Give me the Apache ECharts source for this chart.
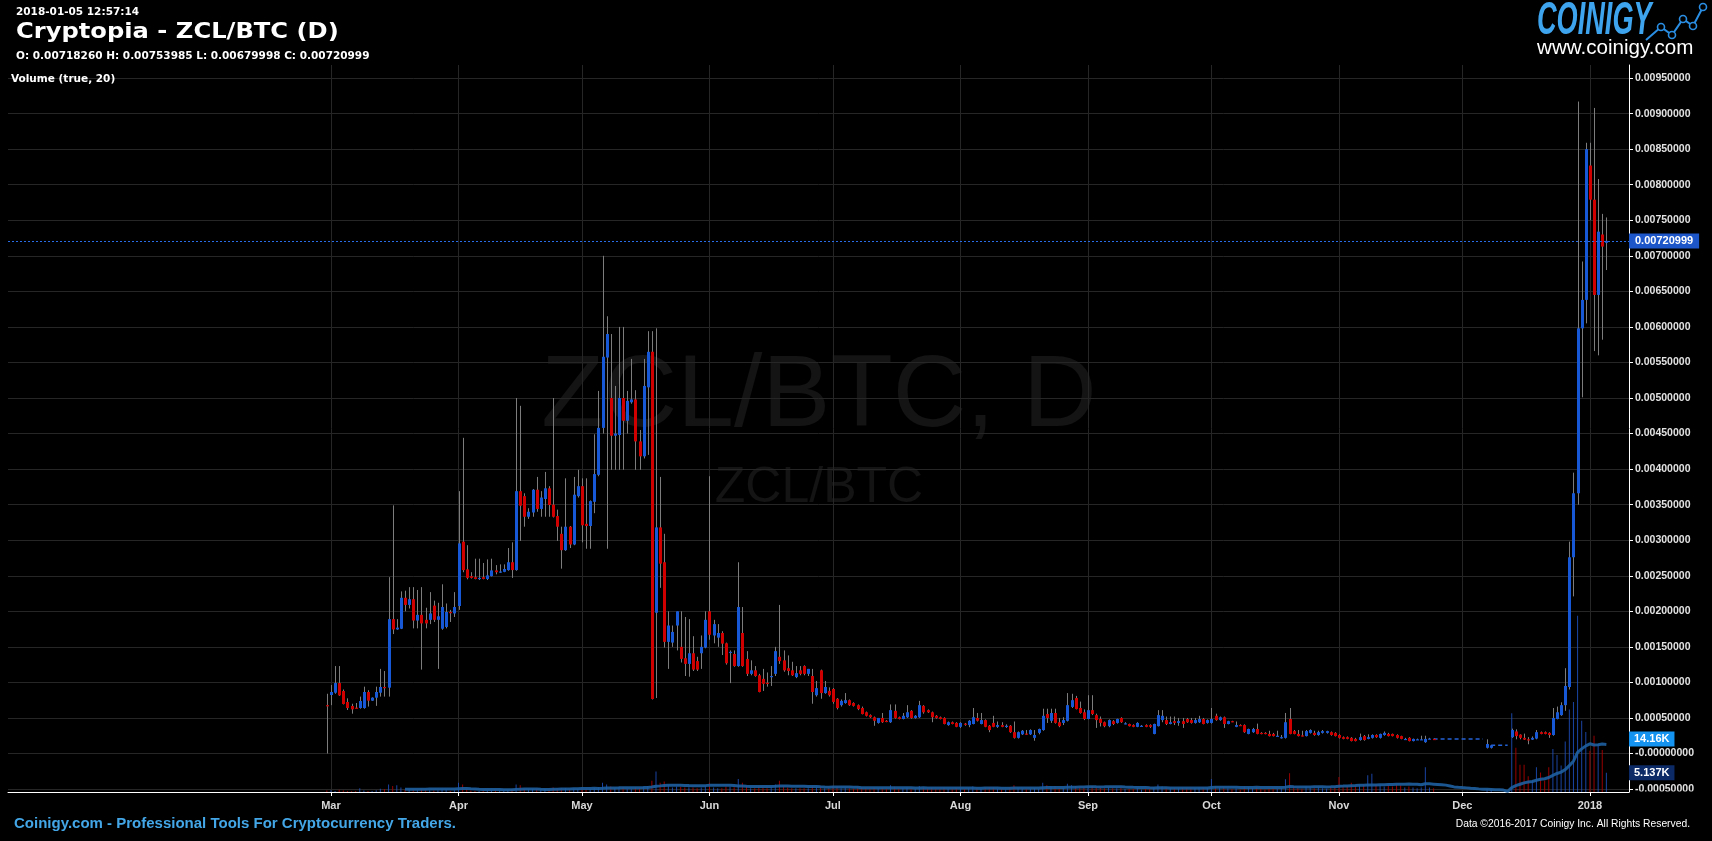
<!DOCTYPE html>
<html><head><meta charset="utf-8">
<script src="https://cdn.jsdelivr.net/npm/echarts@6/dist/echarts.min.js"></script>
<style>html,body{margin:0;padding:0;background:#000;}#c{width:1712px;height:841px;}</style>
</head><body><div id="c"></div>
<script>
// ---- axis range (days) ----
const axisFirstDay = '2016-12-13';
const axisLastDay = '2018-01-10';
const firstCandleDay = '2017-02-28';
const monthNames = ['Jan','Feb','Mar','Apr','May','Jun','Jul','Aug','Sep','Oct','Nov','Dec'];
// price tick labels (mBTC = 0.001 BTC)
const priceTicks = [-0.5,0,0.5,1,1.5,2,2.5,3,3.5,4,4.5,5,5.5,6,6.5,7,7.5,8,8.5,9,9.5];
const lastPrice = 7.20999;
const lastVolMA = 14.16;
const lastVol = 5.137;

// ---- daily candles [open, high, low, close] in mBTC; null = no trades ----
const feb = [[0.68,0.84,0.0,0.675]];
const mar = [[0.823,0.963,0.68,0.865],[0.855,1.23,0.84,0.991],[0.991,1.23,0.81,0.818],[0.879,0.90,0.69,0.696],[0.724,0.776,0.612,0.64],[0.668,0.70,0.56,0.621],[0.645,0.71,0.63,0.638],[0.64,0.80,0.63,0.738],[0.64,0.94,0.63,0.865],[0.865,0.89,0.66,0.743],[0.743,0.79,0.74,0.785],[0.785,0.94,0.67,0.865],[0.855,1.19,0.80,0.935],[0.935,1.16,0.80,0.93],[0.926,2.48,0.80,1.89],[1.89,3.49,1.68,1.745],[1.745,1.89,1.74,1.77],[1.755,2.28,1.75,2.19],[2.19,2.29,2.0,2.09],[2.09,2.34,2.04,2.17],[2.17,2.34,1.76,1.87],[1.87,2.30,1.76,1.95],[1.95,2.34,1.18,1.83],[1.88,2.05,1.76,1.83],[1.88,2.27,1.82,1.97],[2.08,2.15,1.85,1.88],[1.88,2.12,1.19,1.93],[1.755,2.38,1.74,2.06],[1.78,2.11,1.76,1.99],[1.99,2.02,1.85,1.985],[1.97,2.27,1.92,2.06]];
const apr = [[2.075,3.69,2.02,2.955],[2.98,4.44,2.55,2.58],[2.59,2.93,2.45,2.47],[2.495,2.55,2.46,2.47],[2.48,2.74,2.45,2.455],[2.455,2.74,2.44,2.47],[2.48,2.68,2.45,2.455],[2.455,2.73,2.44,2.505],[2.495,2.74,2.49,2.575],[2.575,2.65,2.52,2.55],[2.56,2.66,2.54,2.56],[2.555,2.66,2.55,2.595],[2.58,2.89,2.57,2.69],[2.69,2.97,2.47,2.58],[2.58,5.0,2.57,3.69],[3.69,4.89,2.99,3.485],[3.62,3.66,3.19,3.33],[3.33,3.45,3.30,3.40],[3.39,3.72,3.33,3.71],[3.71,3.89,3.40,3.44],[3.44,3.69,3.33,3.60],[3.58,3.96,3.33,3.73],[3.73,3.76,3.33,3.495],[3.50,5.0,3.32,3.33],[3.34,3.43,2.99,3.19],[3.09,3.19,2.60,2.86],[2.86,3.87,2.85,3.19],[3.19,3.20,2.89,2.94],[2.94,3.89,2.93,3.64],[3.62,3.99,3.60,3.76]];
const may = [[3.76,3.87,2.97,3.21],[3.23,3.87,2.88,3.20],[3.20,3.56,2.88,3.55],[3.54,4.49,3.38,3.93],[3.92,5.10,3.90,4.58],[4.58,7.0,4.50,5.58],[5.57,6.15,2.88,5.90],[5.0,5.90,3.99,4.47],[4.47,5.17,3.99,4.50],[4.48,6.0,3.99,5.0],[5.0,6.0,3.99,4.68],[4.68,5.10,4.50,4.96],[4.94,5.55,4.92,4.98],[4.98,5.11,3.99,4.39],[4.39,4.55,3.99,4.18],[4.18,5.55,4.15,5.17],[5.15,5.94,4.20,5.65],[5.65,5.94,0.76,0.766],[1.98,5.98,0.78,3.18],[3.18,3.89,2.33,2.67],[2.69,3.09,1.49,1.57],[1.57,2.0,1.19,1.80],[1.56,1.80,1.50,1.71],[1.80,2.0,1.45,2.0],[1.50,2.0,1.28,1.33],[1.34,1.92,1.09,1.26],[1.26,1.89,1.08,1.41],[1.41,1.65,1.16,1.18],[1.30,1.36,1.16,1.18],[1.41,1.66,1.19,1.50],[1.49,2.0,1.48,1.88]];
const jun = [[2.0,3.90,1.60,1.67],[1.66,1.88,1.55,1.82],[1.63,1.82,1.50,1.695],[1.695,1.72,1.385,1.545],[1.55,1.56,1.25,1.27],[1.42,1.45,0.99,1.43],[1.40,1.45,1.22,1.23],[1.23,2.69,1.22,2.06],[1.695,2.06,1.22,1.23],[1.33,1.44,1.09,1.12],[1.12,1.31,1.10,1.17],[1.17,1.23,1.08,1.09],[1.10,1.12,0.86,0.865],[1.05,1.19,0.88,0.98],[0.995,1.14,0.94,0.99],[1.08,1.23,0.95,1.09],[1.12,1.50,1.09,1.44],[1.36,2.09,1.26,1.30],[1.31,1.45,1.15,1.17],[1.20,1.38,1.10,1.16],[1.17,1.29,1.09,1.10],[1.075,1.23,1.06,1.13],[1.17,1.23,1.10,1.12],[1.23,1.24,1.10,1.12],[1.12,1.19,1.09,1.19],[1.09,1.19,0.70,0.865],[0.82,1.02,0.80,0.92],[1.17,1.18,0.77,0.85],[0.85,1.02,0.84,0.935],[0.88,0.93,0.80,0.82]];
const jul = [[0.907,0.92,0.70,0.725],[0.77,0.78,0.62,0.64],[0.68,0.76,0.66,0.74],[0.71,0.85,0.70,0.75],[0.75,0.76,0.67,0.68],[0.71,0.72,0.66,0.67],[0.68,0.69,0.61,0.625],[0.64,0.66,0.55,0.555],[0.58,0.59,0.52,0.53],[0.54,0.55,0.50,0.51],[0.51,0.52,0.39,0.46],[0.43,0.50,0.42,0.50],[0.50,0.57,0.43,0.44],[0.46,0.47,0.44,0.455],[0.44,0.69,0.43,0.61],[0.60,0.69,0.49,0.50],[0.51,0.52,0.48,0.485],[0.485,0.57,0.48,0.53],[0.51,0.68,0.50,0.58],[0.60,0.61,0.49,0.50],[0.50,0.54,0.49,0.53],[0.51,0.74,0.50,0.68],[0.67,0.68,0.56,0.58],[0.61,0.62,0.57,0.58],[0.58,0.59,0.44,0.51],[0.53,0.54,0.49,0.50],[0.51,0.52,0.48,0.485],[0.50,0.51,0.41,0.415],[0.40,0.45,0.39,0.44],[0.44,0.45,0.41,0.415],[0.43,0.44,0.37,0.375]];
const aug = [[0.375,0.44,0.36,0.43],[0.42,0.43,0.39,0.41],[0.40,0.47,0.37,0.46],[0.415,0.64,0.41,0.51],[0.50,0.57,0.45,0.46],[0.415,0.57,0.41,0.47],[0.47,0.48,0.37,0.375],[0.39,0.40,0.30,0.33],[0.43,0.53,0.37,0.375],[0.375,0.45,0.36,0.40],[0.40,0.44,0.37,0.375],[0.38,0.41,0.36,0.39],[0.39,0.40,0.29,0.30],[0.30,0.45,0.21,0.22],[0.22,0.31,0.21,0.30],[0.27,0.33,0.26,0.32],[0.28,0.33,0.26,0.27],[0.27,0.34,0.26,0.33],[0.22,0.33,0.18,0.26],[0.29,0.35,0.27,0.345],[0.33,0.63,0.32,0.53],[0.555,0.63,0.43,0.50],[0.46,0.63,0.43,0.57],[0.57,0.63,0.42,0.43],[0.44,0.50,0.37,0.385],[0.43,0.51,0.40,0.47],[0.46,0.85,0.45,0.68],[0.655,0.84,0.64,0.75],[0.78,0.81,0.62,0.625],[0.64,0.73,0.56,0.57],[0.58,0.62,0.47,0.485]];
const sep = [[0.485,0.82,0.48,0.61],[0.61,0.82,0.54,0.555],[0.54,0.56,0.36,0.47],[0.485,0.52,0.38,0.43],[0.44,0.45,0.37,0.385],[0.385,0.48,0.37,0.47],[0.455,0.47,0.40,0.415],[0.43,0.49,0.42,0.485],[0.50,0.51,0.43,0.44],[0.42,0.44,0.41,0.425],[0.415,0.42,0.38,0.385],[0.40,0.41,0.37,0.375],[0.375,0.44,0.37,0.43],[0.385,0.40,0.38,0.39],[0.40,0.41,0.37,0.375],[0.40,0.41,0.36,0.375],[0.275,0.42,0.27,0.415],[0.385,0.61,0.38,0.54],[0.47,0.61,0.44,0.53],[0.47,0.52,0.40,0.415],[0.415,0.52,0.41,0.44],[0.455,0.52,0.40,0.43],[0.43,0.50,0.39,0.455],[0.455,0.50,0.36,0.415],[0.485,0.50,0.43,0.44],[0.47,0.50,0.42,0.43],[0.43,0.50,0.42,0.47],[0.44,0.53,0.43,0.485],[0.485,0.50,0.41,0.415],[0.43,0.48,0.42,0.47]];
const oct = [[0.43,0.64,0.42,0.485],[0.53,0.56,0.46,0.47],[0.47,0.52,0.46,0.51],[0.51,0.52,0.36,0.415],[0.415,0.46,0.41,0.455],[0.455,0.46,0.44,0.45],[0.375,0.45,0.37,0.40],[0.40,0.41,0.39,0.395],[0.40,0.41,0.29,0.30],[0.275,0.35,0.27,0.345],[0.30,0.36,0.29,0.345],[0.345,0.42,0.27,0.275],[0.29,0.30,0.27,0.275],[0.29,0.30,0.27,0.275],[0.275,0.32,0.24,0.245],[0.275,0.29,0.24,0.245],[0.25,0.32,0.24,0.25],[0.22,0.26,0.21,0.23],[0.22,0.57,0.21,0.44],[0.485,0.64,0.27,0.275],[0.315,0.33,0.27,0.275],[0.275,0.33,0.24,0.245],[0.255,0.32,0.24,0.25],[0.245,0.33,0.24,0.315],[0.29,0.34,0.28,0.33],[0.29,0.32,0.25,0.26],[0.26,0.32,0.25,0.30],[0.29,0.33,0.28,0.315],[0.29,0.32,0.28,0.315],[0.30,0.31,0.25,0.26],[0.29,0.30,0.24,0.245]];
const nov = [[0.26,0.27,0.21,0.22],[0.23,0.24,0.20,0.205],[0.23,0.24,0.20,0.205],[0.22,0.23,0.17,0.175],[0.205,0.22,0.17,0.175],[0.19,0.28,0.18,0.23],[0.245,0.26,0.18,0.19],[0.205,0.27,0.20,0.23],[0.22,0.27,0.21,0.26],[0.26,0.27,0.22,0.23],[0.22,0.28,0.21,0.275],[0.26,0.31,0.25,0.29],[0.275,0.29,0.24,0.245],[0.275,0.28,0.24,0.245],[0.26,0.27,0.21,0.22],[0.245,0.25,0.20,0.205],[0.205,0.22,0.19,0.205],[0.22,0.23,0.17,0.175],[0.175,0.21,0.17,0.205],[0.20,0.21,0.19,0.20],[0.20,0.25,0.19,0.20],[0.16,0.25,0.15,0.205],[0.21,0.22,0.20,0.21],[0.205,0.21,0.20,0.20],null,null,null,null,null,null];
const dec = [null,null,null,null,null,null,[0.08,0.20,0.07,0.133],[0.08,0.12,0.07,0.115],null,null,null,null,[0.23,0.35,0.22,0.33],[0.31,0.34,0.20,0.245],[0.265,0.27,0.20,0.22],[0.22,0.28,0.19,0.195],[0.20,0.23,0.13,0.195],[0.195,0.24,0.19,0.22],[0.21,0.33,0.20,0.30],[0.30,0.31,0.27,0.275],[0.30,0.31,0.27,0.275],[0.29,0.30,0.22,0.26],[0.26,0.64,0.25,0.50],[0.485,0.66,0.48,0.58],[0.54,0.72,0.53,0.68],[0.68,1.2,0.60,0.95],[0.935,2.98,0.90,2.76],[2.76,3.95,2.21,3.66],[3.66,9.17,3.50,5.98],[5.98,6.92,5.01,6.38],[6.38,8.59,6.05,8.50]];
const jan = [[8.27,8.59,7.50,7.79],[7.79,9.08,5.66,6.45],[6.45,8.08,5.60,7.34],[7.30,7.59,5.82,7.13],[7.1826,7.53985,6.79998,7.20999]];

// ---- daily volume (thousands of ZCL); 0 = no trades ----
const volFeb = [0.4];
const volMar = [0.5,0.3,0.6,0.4,0.3,0.2,0.3,1.0,0.4,0.3,0.3,0.5,0.9,0.8,2.0,1.6,1.8,1.2,0.6,0.7,0.5,0.5,0.9,0.4,0.5,0.4,0.5,0.7,0.6,0.3,0.5];
const volApr = [2.5,2.0,0.8,0.4,0.3,0.3,0.3,0.4,0.4,0.3,0.3,0.3,0.5,0.6,2.0,1.8,0.9,0.7,0.8,0.8,0.6,0.9,0.7,1.2,1.0,1.0,1.0,0.8,0.9,0.8];
const volMay = [1.0,0.9,0.8,1.1,1.3,2.5,2.0,1.5,1.0,1.4,1.3,0.8,0.8,1.2,1.0,1.5,1.6,3.0,5.5,2.5,2.8,1.8,1.2,1.5,1.4,1.2,1.3,1.2,1.0,1.2,1.5];
const volJun = [2.5,1.2,1.0,1.0,1.5,1.5,1.3,3.5,2.5,1.5,1.0,1.0,1.5,1.2,1.0,1.2,2.0,3.0,1.5,1.2,1.0,1.0,1.0,1.0,1.0,1.5,1.2,1.5,1.0,1.0];
const volJul = [1.5,1.4,1.0,1.2,1.0,0.9,1.0,1.2,1.0,0.9,1.2,1.0,1.0,0.8,1.8,1.4,0.9,1.0,1.2,1.0,0.8,1.6,1.2,0.9,1.1,0.8,0.8,1.2,0.9,0.8,1.0];
const volAug = [1.0,0.8,1.0,1.5,1.0,0.9,1.2,1.3,1.2,0.8,0.8,0.7,1.2,1.8,1.2,0.9,0.8,0.9,1.0,0.9,2.5,1.8,1.5,1.6,1.0,1.0,2.2,1.8,1.6,1.2,1.2];
const volSep = [1.5,1.6,1.2,1.1,1.0,1.2,1.0,1.0,1.1,0.8,0.9,0.8,1.0,0.7,0.8,0.8,1.2,2.0,1.5,1.2,1.0,1.0,1.0,1.1,1.0,1.0,1.0,1.2,1.2,1.0];
const volOct = [3.5,1.5,1.2,1.5,1.0,0.8,1.0,0.7,1.5,1.3,1.0,1.2,0.8,0.7,1.0,0.9,0.8,1.0,3.4,5.0,1.5,1.0,0.9,1.5,1.2,1.0,1.2,1.0,0.9,1.5,1.5];
const volNov = [4.0,1.5,1.5,2.5,1.5,1.8,2.0,4.5,4.9,2.0,1.8,1.5,1.8,1.5,2.0,1.8,1.2,1.5,1.2,1.0,1.2,6.6,1.2,1.0,0,0,0,0,0,0];
const volDec = [0,0,0,0,0,0,0.8,0.6,0,0,0,0,21,11.8,7.3,7.3,4.2,3.1,6.6,5.2,3.1,6.6,11.5,9.9,7.1,13.5,22,24,47,19,16];
const volJan = [11,15,12.8,11.2,5.137];

// ---- gaps without trades: dashed line at the last close ----
const gapSegments = [
  {from:'2017-11-24', to:'2017-12-06', value:0.204},
  {from:'2017-12-08', to:'2017-12-12', value:0.115}
];

// ===== build =====
const BLUE = '#1658d6', RED = '#d00000';
function ymd(t){ return new Date(t).toISOString().slice(0,10); }
const cats = [];
for (let t = Date.parse(axisFirstDay+'T00:00:00Z'); t <= Date.parse(axisLastDay+'T00:00:00Z'); t += 86400000) cats.push(ymd(t));
const candles = [].concat(feb,mar,apr,may,jun,jul,aug,sep,oct,nov,dec,jan);
const vols = [].concat(volFeb,volMar,volApr,volMay,volJun,volJul,volAug,volSep,volOct,volNov,volDec,volJan);
const off = cats.indexOf(firstCandleDay);

const candleData = [];
const volData = cats.map(() => null);
candles.forEach((c, i) => {
  if (!c) return;
  candleData.push([off + i, c[0], c[1], c[2], c[3]]);
});
vols.forEach((v, i) => {
  const c = candles[i];
  if (!c || !v) return;
  volData[off + i] = {value: v, itemStyle: {color: c[3] >= c[0] ? 'rgba(30,80,190,0.85)' : 'rgba(170,0,0,0.9)'}};
});
// 20-day volume moving average (the "Volume (true, 20)" study)
const maData = cats.map(() => null);
for (let i = 19; i < vols.length; i++) {
  let s = 0;
  for (let k = i - 19; k <= i; k++) s += vols[k] || 0;
  maData[off + i] = +(s / 20).toFixed(3);
}
const gapData = cats.map(() => null);
gapSegments.forEach(g => {
  const a = cats.indexOf(g.from), b = cats.indexOf(g.to);
  for (let i = a; i <= b; i++) gapData[i] = g.value;
});

function isTickDay(idx, val) {
  return val.slice(8) === '01' && val >= firstCandleDay;
}

function renderCandle(params, api) {
  const x = api.value(0), o = api.value(1), h = api.value(2), l = api.value(3), c = api.value(4);
  const pO = api.coord([x, o]), pC = api.coord([x, c]), pH = api.coord([x, h]), pL = api.coord([x, l]);
  const cx = Math.round(pO[0]) + 0.5;
  const top = Math.min(pO[1], pC[1]), bot = Math.max(pO[1], pC[1]);
  const hgt = Math.max(1.2, bot - top);
  return {
    type: 'group',
    children: [
      {type: 'line', shape: {x1: cx, y1: pH[1], x2: cx, y2: pL[1]}, style: {stroke: '#7c7c7c', lineWidth: 1}},
      {type: 'rect', shape: {x: cx - 1.5, y: top, width: 3, height: hgt}, style: {fill: c >= o ? BLUE : RED}}
    ]
  };
}

const chart = echarts.init(document.getElementById('c'), null, {renderer: 'canvas'});
const hdrFont = 'bold 10.5px "DejaVu Sans"';
const hidden = {color: 'rgba(0,0,0,0)', width: 0};
chart.setOption({
  backgroundColor: '#000',
  animation: false,
  grid: {left: 8, right: 83, top: 65, bottom: 49},
  xAxis: {
    type: 'category', data: cats, boundaryGap: true,
    axisLine: {show: true, onZero: false, lineStyle: {color: '#ffffff', width: 1}},
    axisTick: {show: true, interval: isTickDay, alignWithLabel: true, length: 4, lineStyle: {color: '#ffffff'}},
    axisLabel: {interval: isTickDay, color: '#d8d8d8', fontFamily: '"Liberation Sans"', fontWeight: 'bold', fontSize: 11, margin: 8,
      formatter: v => { const m = +v.slice(5,7) - 1; return m === 0 ? v.slice(0,4) : monthNames[m]; }},
    splitLine: {show: true, interval: isTickDay, alignWithLabel: true, lineStyle: {color: '#262626', width: 1}}
  },
  yAxis: [{
    type: 'value', position: 'right', min: -0.5415, max: 9.684, scale: false,
    axisLine: {show: true, lineStyle: {color: '#ffffff'}},
    axisTick: {show: true, length: 4, customValues: priceTicks, lineStyle: {color: '#ffffff'}},
    axisLabel: {customValues: priceTicks, color: '#e2e2e2', fontFamily: '"Liberation Sans"', fontWeight: 'bold', fontSize: 10.5, margin: 6,
      formatter: v => (v === 0 ? '-' : '') + (v / 1000).toFixed(8)},
    splitLine: {show: true, lineStyle: {color: '#262626', width: 1}}
  }, {
    type: 'value', min: 0, max: 194, show: false, splitLine: {show: false}
  }],
  graphic: [
    {type: 'text', x: 819, y: 398, z: 0, silent: true, style: {text: 'ZCL/BTC, D', font: '102px "Liberation Sans"', fill: '#141414', align: 'center', verticalAlign: 'middle'}},
    {type: 'text', x: 819, y: 488, z: 0, silent: true, style: {text: 'ZCL/BTC', font: '50px "Liberation Sans"', fill: '#141414', align: 'center', verticalAlign: 'middle'}},
    {type: 'rect', z: 100, silent: true, shape: {x: 1632, y: 791.5, width: 80, height: 12}, style: {fill: '#000'}},
    {type: 'text', x: 16, y: 12, style: {text: '2018-01-05 12:57:14', font: hdrFont, fill: '#ffffff', verticalAlign: 'middle'}},
    {type: 'text', x: 16, y: 32, scaleX: 1.1, style: {text: 'Cryptopia - ZCL/BTC (D)', font: 'bold 22px "DejaVu Sans"', fill: '#ffffff', verticalAlign: 'middle'}},
    {type: 'text', x: 16, y: 56, style: {text: 'O: 0.00718260 H: 0.00753985 L: 0.00679998 C: 0.00720999', font: hdrFont, fill: '#ffffff', verticalAlign: 'middle'}},
    {type: 'text', x: 11, y: 79, z: 10, style: {text: 'Volume (true, 20)', font: hdrFont, fill: '#ffffff', verticalAlign: 'middle'}},
    {type: 'text', x: 14, y: 824, style: {text: 'Coinigy.com - Professional Tools For Cryptocurrency Traders.', font: 'bold 15px "Liberation Sans"', fill: '#43a6e6', verticalAlign: 'middle'}},
    {type: 'text', x: 1690, y: 824, style: {text: 'Data \u00a92016-2017 Coinigy Inc. All Rights Reserved.', font: '10.3px "Liberation Sans"', fill: '#ffffff', align: 'right', verticalAlign: 'middle'}},
    {type: 'text', x: 1537, y: 21, scaleX: 0.59, style: {text: 'COINIGY', font: 'italic bold 46px "Liberation Sans"', fill: '#3ea4ee', verticalAlign: 'middle'}},
    {type: 'polyline', shape: {points: [[1646, 40], [1661, 27], [1672, 35], [1683, 19], [1693, 26], [1703, 7]]}, style: {stroke: '#2a8fe4', lineWidth: 2, fill: null}},
    {type: 'circle', shape: {cx: 1661, cy: 27, r: 3.5}, style: {stroke: '#2a8fe4', lineWidth: 1.6, fill: '#000'}},
    {type: 'circle', shape: {cx: 1672, cy: 35, r: 3.5}, style: {stroke: '#2a8fe4', lineWidth: 1.6, fill: '#000'}},
    {type: 'circle', shape: {cx: 1683, cy: 19, r: 3.5}, style: {stroke: '#2a8fe4', lineWidth: 1.6, fill: '#000'}},
    {type: 'circle', shape: {cx: 1693, cy: 26, r: 3.5}, style: {stroke: '#2a8fe4', lineWidth: 1.6, fill: '#000'}},
    {type: 'circle', shape: {cx: 1703, cy: 7, r: 3.5}, style: {stroke: '#2a8fe4', lineWidth: 1.6, fill: '#000'}},
    {type: 'text', x: 1537, y: 48, scaleX: 1.03, style: {text: 'www.coinigy.com', font: '20px "Liberation Sans"', fill: '#ffffff', verticalAlign: 'middle'}}
  ],
  series: [
    {
      type: 'bar', name: 'volume', yAxisIndex: 1, data: volData, barWidth: 1, z: 1, silent: true,
      markLine: {silent: true, symbol: 'none', lineStyle: hidden, data: [{yAxis: lastVol}],
        label: {show: true, position: 'end', distance: 0, formatter: lastVol + 'K', color: '#fff', fontWeight: 'bold', fontSize: 11, fontFamily: '"Liberation Sans"', backgroundColor: '#0b2a66', padding: [2, 5, 2, 5]}}
    },
    {
      type: 'line', name: 'volMA', yAxisIndex: 1, data: maData, showSymbol: false, z: 2, silent: true,
      lineStyle: {color: 'rgba(30,95,160,0.9)', width: 3},
      markLine: {silent: true, symbol: 'none', lineStyle: hidden, data: [{yAxis: lastVolMA}],
        label: {show: true, position: 'end', distance: 0, formatter: lastVolMA + 'K', color: '#fff', fontWeight: 'bold', fontSize: 11, fontFamily: '"Liberation Sans"', backgroundColor: '#1593f0', padding: [2, 5, 2, 5]}}
    },
    {
      type: 'line', name: 'gap', data: gapData, showSymbol: false, z: 3, silent: true,
      lineStyle: {color: '#2462d8', width: 1.5, type: [4, 3]},
      markLine: {silent: true, symbol: 'none', data: [{yAxis: lastPrice}],
        lineStyle: {color: '#2a6be6', width: 1, type: [2, 2]},
        label: {position: 'end', distance: 0, formatter: (lastPrice / 1000).toFixed(8), color: '#fff', fontWeight: 'bold', fontSize: 11, fontFamily: '"Liberation Sans"', backgroundColor: '#1c56c9', padding: [2, 6, 2, 6]}}
    },
    {
      type: 'custom', name: 'price', data: candleData, renderItem: renderCandle, z: 4, silent: true,
      encode: {x: 0, y: [1, 2, 3, 4]}, clip: true
    }
  ]
});
</script></body></html>
